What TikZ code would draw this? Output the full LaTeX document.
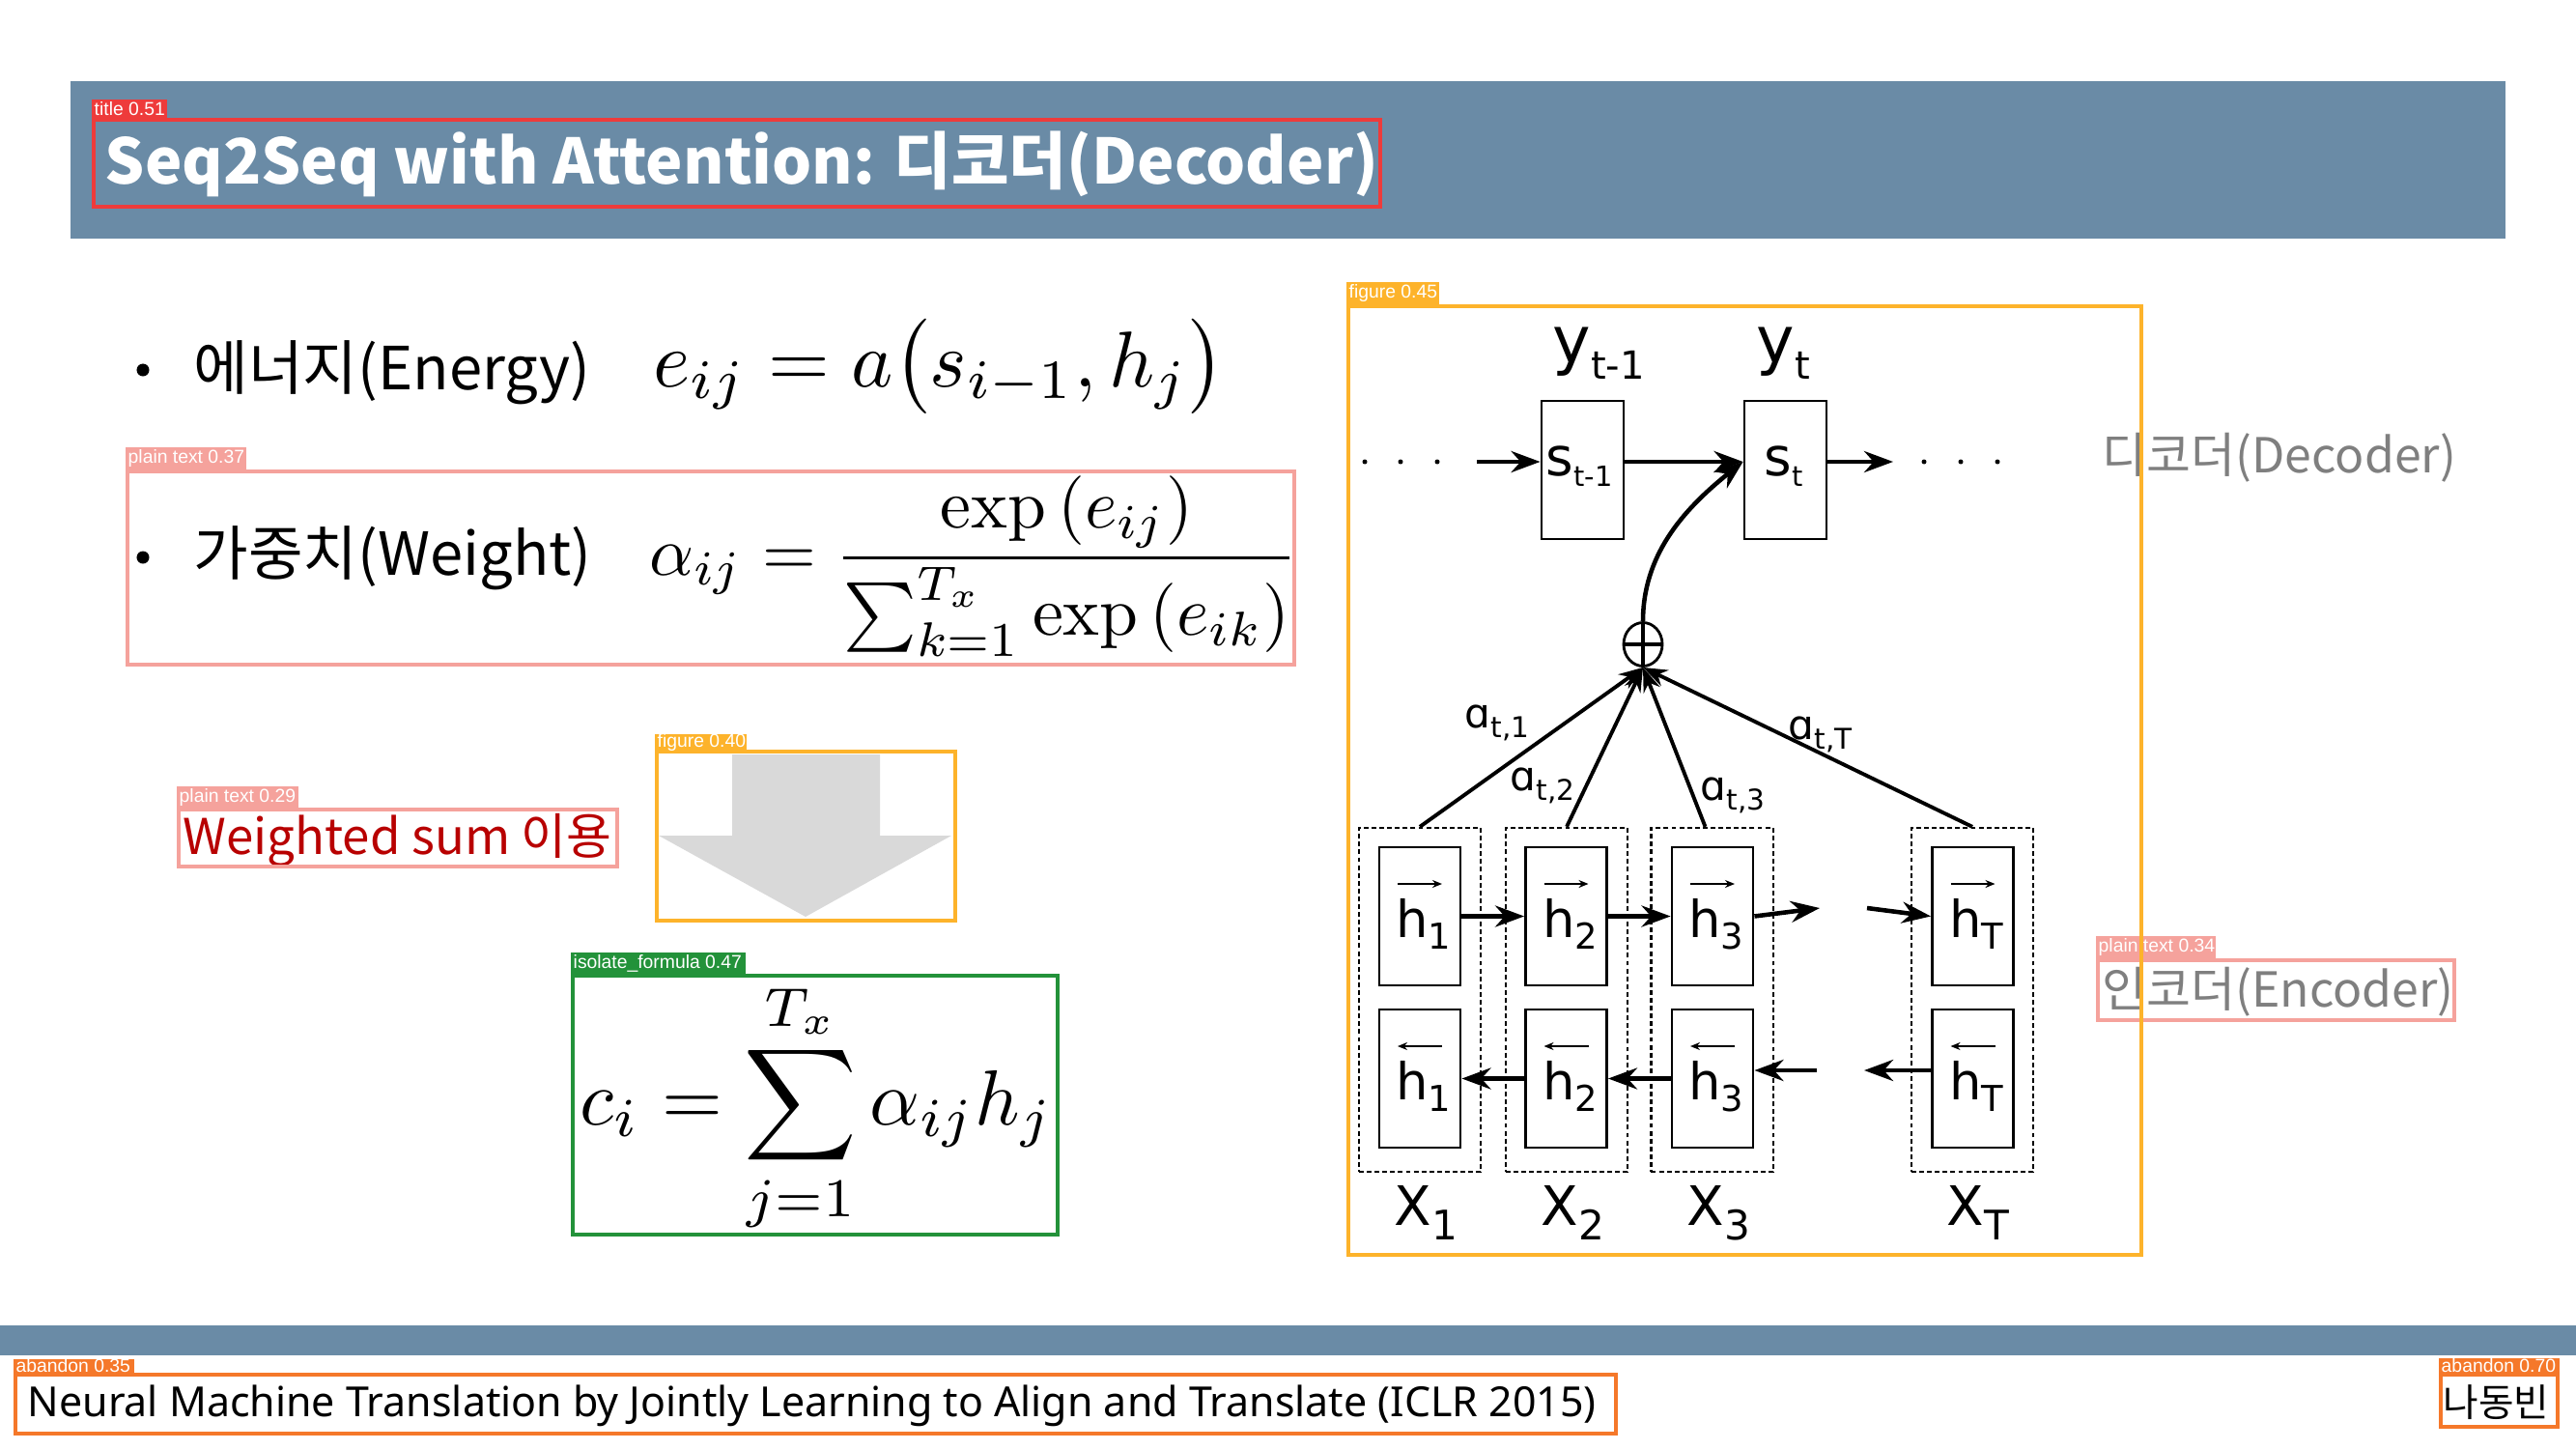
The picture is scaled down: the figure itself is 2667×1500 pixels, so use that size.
\documentclass[tikz,border=0pt]{standalone}
\usepackage[no-math]{fontspec}
\usepackage{graphicx}
\setmainfont{Noto Sans CJK KR}
\newfontfamily\dv{DejaVu Sans}
\newfontfamily\tagf{Liberation Sans}
\newfontfamily\reff{Noto Sans}
\usetikzlibrary{arrows.meta,shapes.geometric,calc}

\definecolor{band}{HTML}{6A8BA6}
\definecolor{detred}{HTML}{EE3B3B}
\definecolor{detpink}{HTML}{F5A29C}
\definecolor{detorange}{HTML}{FDB32B}
\definecolor{detgreen}{HTML}{23923A}
\definecolor{detaban}{HTML}{F5782A}
\definecolor{wred}{HTML}{B80000}
\definecolor{txtgray}{HTML}{7F7F7F}
\definecolor{arrowgray}{HTML}{D9D9D9}

\tikzset{
  det/.style={draw=#1, line width=1.15pt},
  tagtext/.style={anchor=west, inner sep=0, text=white, font=\tagf\fontsize{5.5}{6}\selectfont},
  txt/.style={anchor=base west, inner sep=0},
  bulletdot/.style={circle, fill=black, minimum size=0.13cm, inner sep=0},
  cellbox/.style={draw, line width=0.8pt, minimum width=0.84cm, minimum height=1.43cm, inner sep=0},
  colbox/.style={draw, line width=0.6pt, dash pattern=on 1.4pt off 0.9pt, minimum width=1.26cm, minimum height=3.56cm, inner sep=0},
  flow/.style={line width=1.3pt, -{Stealth[length=0.3cm,width=0.22cm]}},
  att/.style={line width=1.1pt, -{Stealth[length=0.25cm,width=0.18cm]}},
  vecarr/.style={line width=0.5pt, -{Stealth[length=0.1cm,width=0.08cm]}},
  dotn/.style={circle, fill=black, minimum size=0.05cm, inner sep=0},
  dlab/.style={anchor=base west, inner sep=0, font=\dv},
}

% helpers for the figure labels
\newcommand{\hlab}[1]{\fontsize{15}{15}\selectfont h\raisebox{-0.12cm}{\fontsize{10.5}{11}\selectfont #1}}
\newcommand{\xlab}[1]{\fontsize{16}{16}\selectfont X\raisebox{-0.15cm}{\fontsize{12}{12}\selectfont #1}}
\newcommand{\alab}[1]{\fontsize{12}{12}\selectfont ɑ\raisebox{-0.1cm}{\fontsize{8.4}{9}\selectfont #1}}

\begin{document}
\begin{tikzpicture}[x=0.01cm,y=-0.01cm]
\useasboundingbox (0,0) rectangle (2667,1500);
\fill[white] (0,0) rectangle (2667,1500);

% header and footer bands
\fill[band] (73,84) rectangle (2594,247);
\fill[band] (0,1372) rectangle (2667,1403);

\node[txt, text=white, font=\bfseries\fontsize{18.4}{20}\selectfont] (title) at (108,190)
  {Seq2Seq with Attention: 디코더(Decoder)};

% bullet lines
\node[bulletdot] (b1) at (148,383) {};
\node[txt, font=\fontsize{17.5}{18}\selectfont] (energy) at (200,403) {에너지(Energy)};
\node[txt] (eq1) at (676,400) {\scalebox{2.33}{$e_{ij} = a\bigl(s_{i-1}, h_j\bigr)$}};

\node[bulletdot] (b2) at (148,577) {};
\node[txt, font=\fontsize{17.5}{18}\selectfont] (weight) at (200,595) {가중치(Weight)};
\node[txt] (eq2) at (672,595) {\scalebox{2.04}{$\displaystyle \alpha_{ij} = \frac{\exp\left(e_{ij}\right)}{\sum_{k=1}^{T_x}\exp\left(e_{ik}\right)}$}};

\node[txt, text=wred, font=\fontsize{14.5}{15}\selectfont] (wsum) at (189,884) {Weighted sum 이용};

% big grey down arrow
\fill[arrowgray] (758,781) -- (911,781) -- (911,865) -- (985,865) -- (834,949)
  -- (682,865) -- (758,865) -- cycle;

\node[txt] (eq3) at (600,1164) {\scalebox{2.3}{$\displaystyle c_i = \sum_{j=1}^{T_x} \alpha_{ij} h_j$}};

% side captions
\node[txt, text=txtgray, font=\fontsize{14.2}{15}\selectfont] (declab) at (2176,489) {디코더(Decoder)};
\node[txt, text=txtgray, font=\fontsize{14.2}{15}\selectfont] (enclab) at (2176,1042) {인코더(Encoder)};

% footer
\node[txt, font=\reff\fontsize{12.2}{14}\selectfont] (ref) at (28,1466) {Neural Machine Translation by Jointly Learning to Align and Translate (ICLR 2015)};
\node[txt, font=\fontsize{11.3}{13}\selectfont] (author) at (2529,1466) {나동빈};

% ---------------- attention figure ----------------
% decoder states
\node[cellbox, minimum width=0.85cm] (stm1) at (1638.5,486.5) {};
\node[cellbox, minimum width=0.85cm] (st) at (1848.5,486.5) {};
\node[dlab] (stm1l) at (1600,492) {\fontsize{15.6}{16}\selectfont s\raisebox{-0.11cm}{\fontsize{8.2}{9}\selectfont t-1}};
\node[dlab] (stl) at (1826,492) {\fontsize{15.6}{16}\selectfont s\raisebox{-0.11cm}{\fontsize{8.2}{9}\selectfont t}};
\node[dlab] (ytm1) at (1607,375) {\fontsize{19}{19}\selectfont y\raisebox{-0.17cm}{\fontsize{11.4}{12}\selectfont t-1}};
\node[dlab] (yt) at (1818,375) {\fontsize{19}{19}\selectfont y\raisebox{-0.17cm}{\fontsize{11.4}{12}\selectfont t}};

\node[dotn] (dl1) at (1413,478) {};
\node[dotn] (dl2) at (1450,478) {};
\node[dotn] (dl3) at (1488,478) {};
\node[dotn] (dr1) at (1992,478) {};
\node[dotn] (dr2) at (2030,478) {};
\node[dotn] (dr3) at (2068,478) {};
\coordinate (inl) at (1529,478);
\coordinate (outr) at (1960,478);

\draw[flow] (inl) -- ($(stm1.west)+(0,-8.5)$);
\draw[flow] ($(stm1.east)+(0,-8.5)$) -- ($(st.west)+(0,-8.5)$);
\draw[flow] ($(st.east)+(0,-8.5)$) -- (outr);

% summation node
\node[ellipse, draw, line width=0.8pt, minimum width=0.40cm, minimum height=0.45cm, inner sep=0,
  path picture={\draw[line width=1.1pt] (path picture bounding box.north) -- (path picture bounding box.south);
                \draw[line width=1.1pt] (path picture bounding box.west) -- (path picture bounding box.east);}]
  (plus) at (1701,667) {};
\draw[flow] (plus.north) .. controls (1701,575) and (1742,528) .. ($(st.west)+(0,-8.5)$);

% encoder columns
\foreach \n/\cx in {1/1470,2/1622,3/1772.5,T/2042}{
  \node[colbox] (d\n) at (\cx,1035) {};
}
\foreach \n/\cx in {1/1470,2/1621.5,3/1773,T/2042.5}{
  \node[cellbox] (h\n f) at (\cx,948.5) {};
  \node[cellbox] (h\n b) at (\cx,1116.5) {};
  \node[dlab, anchor=base] (h\n fl) at (\cx+4,970) {\hlab{\n}};
  \node[dlab, anchor=base] (h\n bl) at (\cx+4,1138) {\hlab{\n}};
  \draw[vecarr] ($(h\n f.center)+(-23,-33.5)$) -- ($(h\n f.center)+(23,-33.5)$);
  \draw[vecarr] ($(h\n b.center)+(23,-33.5)$) -- ($(h\n b.center)+(-23,-33.5)$);
}

% forward and backward recurrences
\draw[flow] (h1f.east) -- (h2f.west);
\draw[flow] (h2f.east) -- (h3f.west);
\coordinate (f3out) at (1884,940);
\coordinate (fTin) at (1933,940);
\draw[flow] (h3f.east) -- (f3out);
\draw[flow] (fTin) -- (hTf.west);
\draw[flow] (h2b.west) -- (h1b.east);
\draw[flow] (h3b.west) -- (h2b.east);
\coordinate (b3in) at (1881,1108);
\coordinate (bTout) at (1930,1108);
\draw[flow] (b3in) -- ($(h3b.east)+(0,-8.5)$);
\draw[flow] ($(hTb.west)+(0,-8.5)$) -- (bTout);

% attention weights
\draw[att] (d1.north) -- (plus.south);
\draw[att] (d2.north) -- (plus.south);
\draw[att] ([xshift=-0.07cm]d3.north) -- (plus.south);
\draw[att] (dT.north) -- (plus.south);
\node[dlab] (a1) at (1516,753) {\alab{t,1}};
\node[dlab] (a2) at (1563,818) {\alab{t,2}};
\node[dlab] (a3) at (1760,828) {\alab{t,3}};
\node[dlab] (aT) at (1851,765) {\alab{t,T}};

\node[dlab] (x1) at (1443,1268) {\xlab{1}};
\node[dlab] (x2) at (1595,1268) {\xlab{2}};
\node[dlab] (x3) at (1746,1268) {\xlab{3}};
\node[dlab] (xT) at (2015,1268) {\xlab{T}};

% ---------------- layout boxes with their tags ----------------
\draw[det=detred] (97,124) rectangle (1429,214);
\fill[detred] (95,103) rectangle (173,123);
\node[tagtext] (tg1) at (97,113) {title 0.51};

\draw[det=detpink] (132,488) rectangle (1340,688);
\fill[detpink] (130,463) rectangle (255,486);
\node[tagtext] (tg2) at (132,474.5) {plain text 0.37};

\draw[det=detpink] (185,838) rectangle (639,897);
\fill[detpink] (183,814) rectangle (309,836);
\node[tagtext] (tg3) at (185,825) {plain text 0.29};

\draw[det=detorange] (680,778) rectangle (989,953);
\fill[detorange] (678,760) rectangle (773,776);
\node[tagtext] (tg4) at (680,768) {figure 0.40};

\draw[det=detgreen] (593,1010) rectangle (1095,1278);
\fill[detgreen] (591,986) rectangle (772,1008);
\node[tagtext] (tg5) at (593,997) {isolate\_formula 0.47};

\draw[det=detpink] (2172,994) rectangle (2541,1056);
\fill[detpink] (2170,969) rectangle (2294,992);
\node[tagtext] (tg7) at (2172,980.5) {plain text 0.34};

\draw[det=detorange] (1396,317) rectangle (2217,1299);
\fill[detorange] (1394,292) rectangle (1490,315);
\node[tagtext] (tg6) at (1396,303.5) {figure 0.45};

\draw[det=detaban] (16,1423) rectangle (1673,1484);
\fill[detaban] (14,1407) rectangle (139,1421);
\node[tagtext] (tg8) at (16,1414) {abandon 0.35};

\draw[det=detaban] (2527,1423) rectangle (2648,1477);
\fill[detaban] (2525,1406) rectangle (2650,1421);
\node[tagtext] (tg9) at (2527,1413.5) {abandon 0.70};
\end{tikzpicture}
\end{document}
